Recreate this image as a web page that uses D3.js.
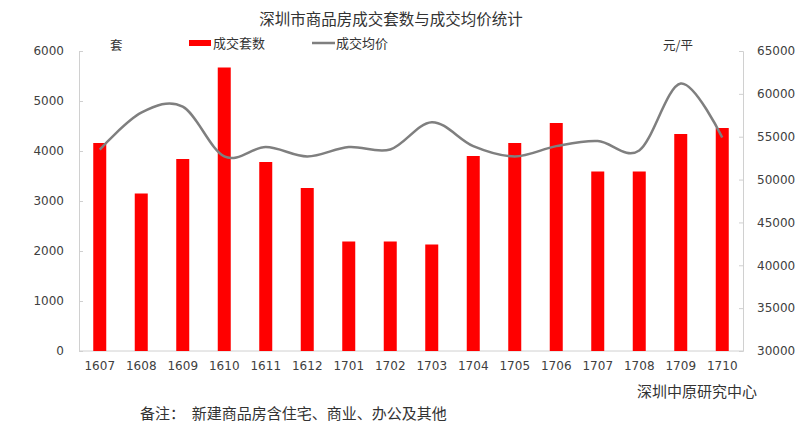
<!DOCTYPE html>
<html><head><meta charset="utf-8">
<script src="https://cdn.jsdelivr.net/npm/d3@7"></script>
<style>
html,body{margin:0;padding:0;background:#fff;}
svg{display:block;}
.cjk{font-family:"Noto Sans CJK SC","Noto Sans",sans-serif;}
.num{font-family:"DejaVu Sans",sans-serif;}
</style></head>
<body>
<svg id="c" width="800" height="423"></svg>
<script>
const categories = ["1607","1608","1609","1610","1611","1612","1701","1702","1703","1704","1705","1706","1707","1708","1709","1710"];
const units = [4160,3150,3840,5670,3780,3260,2190,2190,2130,3900,4160,4560,3590,3590,4340,4460];
const prices = [53500,57800,58500,52700,53800,52700,53800,53500,56700,53900,52700,53900,54500,53400,61200,54900];
const leftTicks = [0,1000,2000,3000,4000,5000,6000];
const rightTicks = [30000,35000,40000,45000,50000,55000,60000,65000];
const title = "深圳市商品房成交套数与成交均价统计";
const seriesNames = ["成交套数","成交均价"];

const svg = d3.select("#c");
const L = 79, R = 743, T = 51, B = 351;
const x = d3.scaleBand().domain(categories).range([L, R]).padding(0);
const yL = d3.scaleLinear().domain([0, 6000]).range([B, T]);
const yR = d3.scaleLinear().domain([30000, 65000]).range([B, T]);
const axisColor = "#d0d0d0", textColor = "#404040";
const fmt = d3.format("d");

// axes
const gl = svg.append("g").attr("transform", `translate(${L},0)`)
  .call(d3.axisLeft(yL).tickValues(leftTicks).tickFormat(fmt).tickSize(-4).tickPadding(15));
const gr = svg.append("g").attr("transform", `translate(${R},0)`)
  .call(d3.axisRight(yR).tickValues(rightTicks).tickFormat(fmt).tickSize(-4).tickPadding(14));
const gx = svg.append("g").attr("transform", `translate(0,${B})`)
  .call(d3.axisBottom(x).tickSize(0).tickPadding(10));
[gl, gr, gx].forEach(g => {
  g.selectAll(".domain").attr("stroke", axisColor);
  g.selectAll(".tick line").attr("stroke", axisColor);
  g.selectAll("text").attr("class", "num").attr("fill", textColor).attr("font-size", 12);
});
gx.select(".domain").attr("d", `M${L},0H${R}`);

// bars
const bw = 13;
svg.append("g").selectAll("rect").data(units).join("rect")
  .attr("x", (d, i) => x(categories[i]) + x.bandwidth() / 2 - bw / 2)
  .attr("width", bw)
  .attr("y", d => yL(d))
  .attr("height", d => B - yL(d))
  .attr("fill", "#ff0000");

// line
const line = d3.line()
  .x((d, i) => x(categories[i]) + x.bandwidth() / 2)
  .y(d => yR(d))
  .curve(d3.curveCatmullRom.alpha(0));
svg.append("path").datum(prices).attr("d", line)
  .attr("fill", "none").attr("stroke", "#7f7f7f").attr("stroke-width", 2.5);

// title
svg.append("text").attr("class", "cjk").attr("x", 391).attr("y", 25)
  .attr("text-anchor", "middle").attr("font-size", 15.5).attr("fill", "#333").text(title);

// legend
svg.append("rect").attr("x", 189).attr("y", 40).attr("width", 22).attr("height", 6).attr("fill", "#ff0000");
svg.append("text").attr("class", "cjk").attr("x", 213).attr("y", 48).attr("font-size", 13).attr("fill", "#333").text(seriesNames[0]);
svg.append("line").attr("x1", 312).attr("x2", 335).attr("y1", 43).attr("y2", 43).attr("stroke", "#7f7f7f").attr("stroke-width", 2.5);
svg.append("text").attr("class", "cjk").attr("x", 336).attr("y", 48).attr("font-size", 13).attr("fill", "#333").text(seriesNames[1]);

// unit labels
svg.append("text").attr("class", "cjk").attr("x", 110).attr("y", 50).attr("font-size", 12.5).attr("fill", "#333").text("套");
svg.append("text").attr("class", "cjk").attr("x", 663).attr("y", 50).attr("font-size", 12.5).attr("fill", "#333").text("元/平");

// source and note
svg.append("text").attr("class", "cjk").attr("x", 637).attr("y", 397).attr("font-size", 15).attr("fill", "#333").text("深圳中原研究中心");
svg.append("text").attr("class", "cjk").attr("x", 140).attr("y", 419).attr("font-size", 15).attr("fill", "#333").attr("xml:space","preserve").text("备注：  新建商品房含住宅、商业、办公及其他");
</script>
</body></html>
